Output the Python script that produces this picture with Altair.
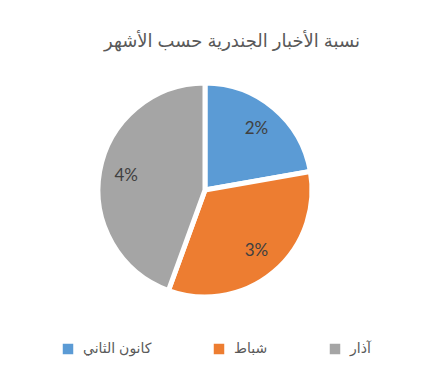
import altair as alt
import pandas as pd

months = ["كانون الثاني", "شباط", "آذار"]
values = [2, 3, 4]
labels = ["2%", "3%", "4%"]
colors = ["#5B9BD5", "#ED7D31", "#A5A5A5"]

df = pd.DataFrame({"month": months, "value": values, "label": labels, "idx": [0, 1, 2]})

FONT = "Liberation Sans, Arial, DejaVu Sans"

base = alt.Chart(df).encode(
    theta=alt.Theta("value:Q", stack=True),
    order=alt.Order("idx:Q"),
)

cx, cy = 197, 137

arcs = base.mark_arc(outerRadius=107, stroke="white", strokeWidth=5).encode(
    x=alt.value(cx),
    y=alt.value(cy),
    color=alt.Color(
        "month:N",
        scale=alt.Scale(domain=months, range=colors),
        sort=months,
        legend=alt.Legend(
            title=None,
            orient="none",
            legendX=53,
            legendY=289,
            direction="horizontal",
            symbolType="square",
            symbolSize=110,
            symbolStrokeWidth=0,
            labelFont=FONT,
            labelFontSize=14,
            labelColor="#595959",
            labelOffset=8,
            columnPadding=60,
        ),
    ),
)

texts = base.mark_text(radius=80, fontSize=17, font="Lato", color="#404040").encode(
    x=alt.value(cx),
    y=alt.value(cy),
    text="label:N",
)

chart = (
    alt.layer(arcs, texts, view=alt.ViewBackground(strokeOpacity=0, strokeWidth=0))
    .properties(
        width=412,
        height=325,
        padding={"left": 0, "top": 45, "right": 0, "bottom": 0},
        autosize=alt.AutoSizeParams(type="none"),
        title=alt.TitleParams(
            text="نسبة الأخبار الجندرية حسب الأشهر",
            font=FONT,
            fontSize=18,
            fontWeight="normal",
            color="#595959",
            anchor="middle",
            dx=18,
            offset=2,
        ),
    )
    .configure_view(strokeWidth=0, strokeOpacity=0)
    .configure(background="white")
)

chart.save("out.html", embed_options={"renderer": "svg", "actions": False})
